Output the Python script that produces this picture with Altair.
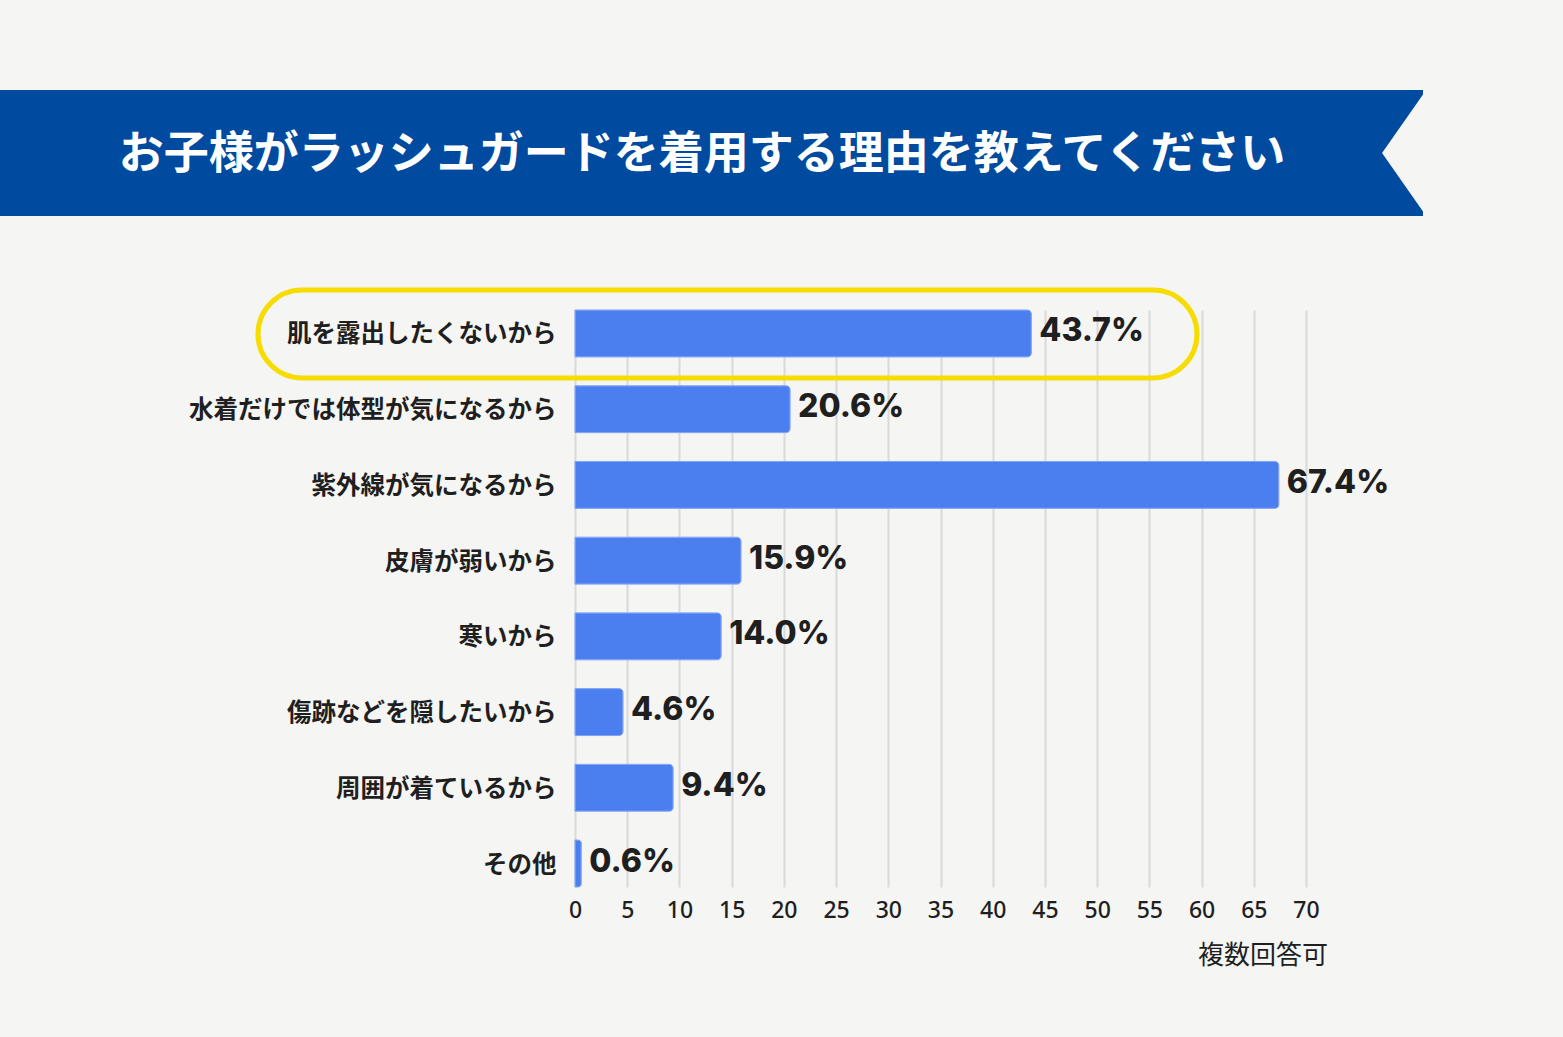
import altair as alt
import pandas as pd

# Survey answers (multiple answers allowed), in display order
reasons = [
    "肌を露出したくないから",
    "水着だけでは体型が気になるから",
    "紫外線が気になるから",
    "皮膚が弱いから",
    "寒いから",
    "傷跡などを隠したいから",
    "周囲が着ているから",
    "その他",
]
shares = [43.7, 20.6, 67.4, 15.9, 14.0, 4.6, 9.4, 0.6]
x_ticks = list(range(0, 75, 5))

title_text = "お子様がラッシュガードを着用する理由を教えてください"
note_text = "複数回答可"

BG = "#f5f5f4"
NAVY = "#004a9f"
BAR = "#4b7ff0"
YELLOW = "#f6dc00"
INK = "#1f1f1f"
JP = "Noto Sans CJK JP"

df = pd.DataFrame({"reason": reasons, "share": shares})
df["label"] = [f"{v:.1f}%" for v in shares]
one = pd.DataFrame({"k": [0]})

W, H = 731, 577          # plot area
LEFT, TOP = 575, 310      # plot origin on the page
PAGE_W, PAGE_H = 1563, 1037

y_enc = alt.Y(
    "reason:N",
    sort=None,
    scale=alt.Scale(paddingInner=0.38, paddingOuter=0),
    axis=alt.Axis(
        title=None, domain=False, ticks=False, labelPadding=19, labelOffset=2,
        labelFont=JP, labelFontSize=24.5, labelFontWeight="bold",
        labelColor=INK, labelLimit=600,
    ),
)
x_enc = alt.X(
    "share:Q",
    scale=alt.Scale(domain=[0, 70], nice=False),
    axis=alt.Axis(
        title=None, values=x_ticks, domain=False, ticks=False,
        grid=True, gridColor="#d9d9d9", gridWidth=2, labelFlush=False,
        labelPadding=12, labelFont="Noto Sans", labelFontSize=23,
        labelFontWeight=500, labelColor=INK,
    ),
)

# page frame used for sizing (transparent)
frame = alt.Chart(one).mark_rect(fill="transparent", strokeWidth=0).encode(
    x=alt.value(-LEFT), x2=alt.value(PAGE_W - LEFT),
    y=alt.value(-TOP), y2=alt.value(PAGE_H - TOP),
)

# header ribbon with a notched right end
ribbon = alt.Chart(one).mark_rect(fill=NAVY, strokeWidth=0).encode(
    x=alt.value(-LEFT), x2=alt.value(1423 - LEFT),
    y=alt.value(90 - TOP), y2=alt.value(216 - TOP),
)
notch = alt.Chart(one).mark_point(
    shape="M 0.05 -1 L -0.65 0 L 0.05 1 Z", filled=True, fill=BG,
    opacity=1, strokeWidth=0, size=126 * 126,
).encode(x=alt.value(1423 - LEFT), y=alt.value(153 - TOP))

heading = alt.Chart(one).mark_text(
    text=title_text, font=JP, fontSize=45, fontWeight="bold", color="white",
    align="center", baseline="middle",
).encode(x=alt.value(702 - LEFT), y=alt.value(155 - TOP))

bars = alt.Chart(df).mark_bar(color=BAR, cornerRadiusEnd=4, stroke="#7fa3f5", strokeWidth=1).encode(
    x=x_enc, y=y_enc,
)

values = alt.Chart(df).mark_text(
    align="left", baseline="middle", dx=8, dy=-2,
    font="Inter", fontSize=32, fontWeight=800, color=INK,
).encode(x="share:Q", y=alt.Y("reason:N", sort=None), text="label:N")

# highlight around the first answer
pill = alt.Chart(one).mark_rect(
    fillOpacity=0, stroke=YELLOW, strokeWidth=5, cornerRadius=44,
).encode(
    x=alt.value(258 - LEFT), x2=alt.value(1197 - LEFT),
    y=alt.value(290 - TOP), y2=alt.value(378 - TOP),
)

note = alt.Chart(one).mark_text(
    text=note_text, font=JP, fontSize=26, color=INK,
    align="center", baseline="middle",
).encode(x=alt.value(1263 - LEFT), y=alt.value(956 - TOP))

chart = (
    alt.layer(frame, ribbon, notch, heading, bars, values, pill, note)
    .properties(width=W, height=H, padding=0, background=BG)
    .configure_view(strokeWidth=0)
)

chart.save("out.html", embed_options={"renderer": "svg", "actions": False})
